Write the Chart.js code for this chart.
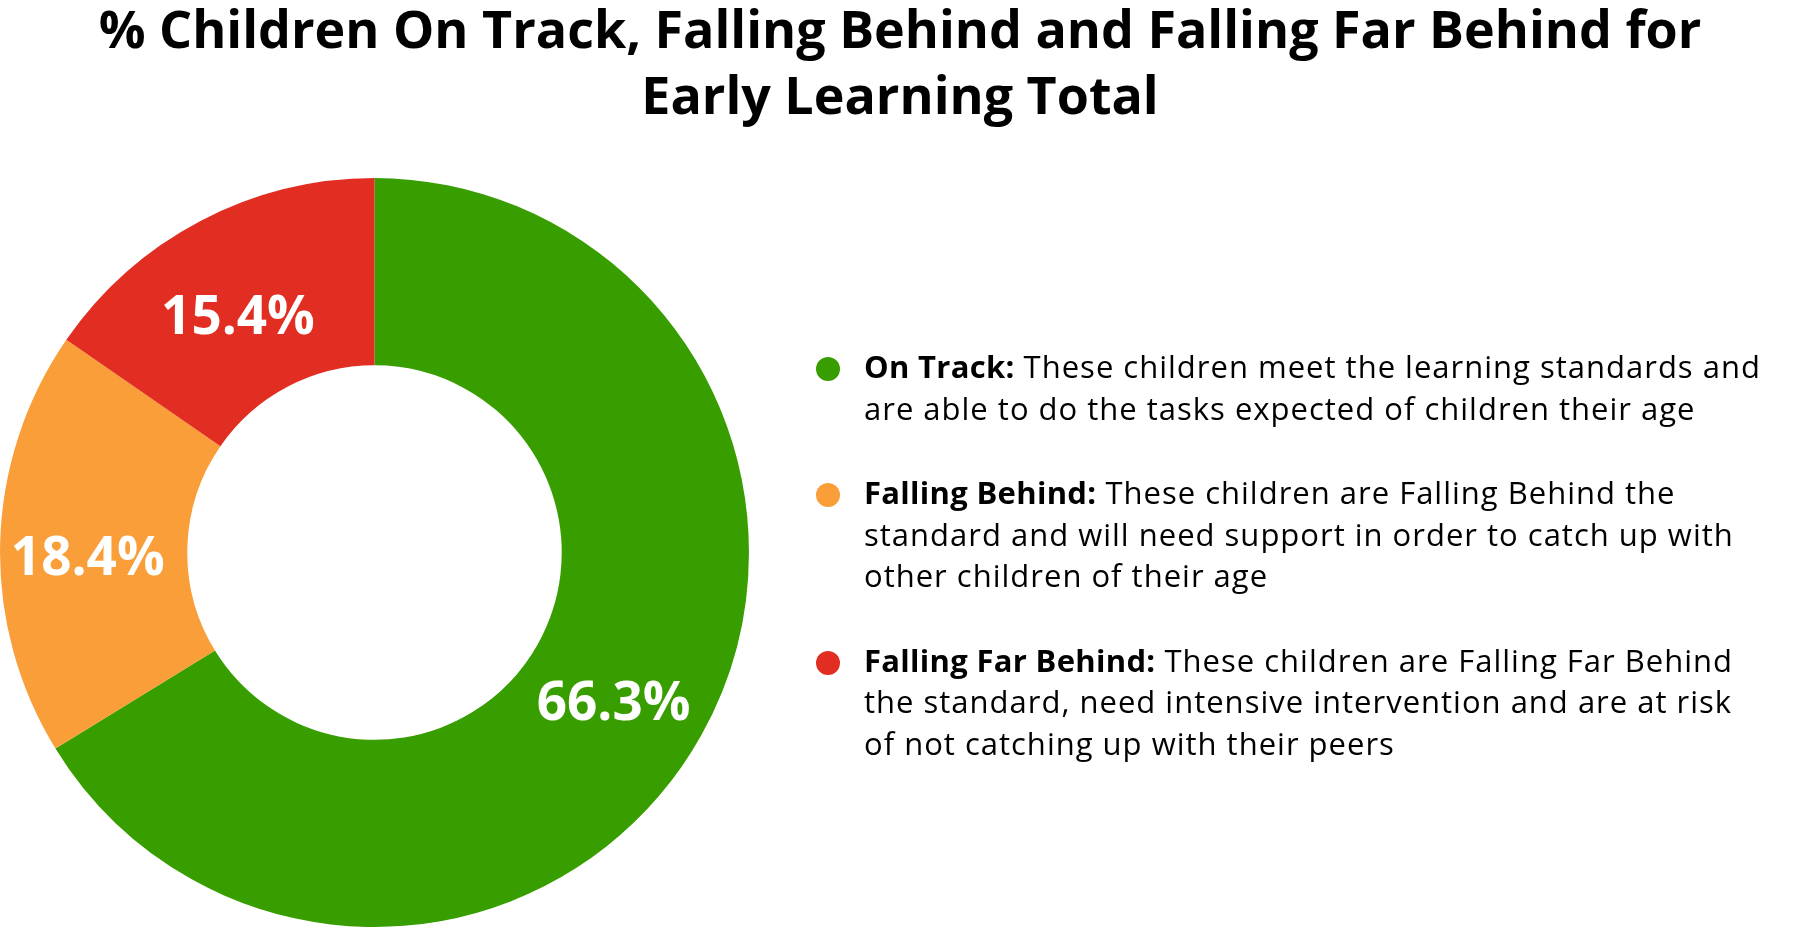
<!DOCTYPE html>
<html>
<head>
<meta charset="utf-8">
<title>Early Learning Total</title>
<script src="https://cdn.jsdelivr.net/npm/chart.js@4.4.0/dist/chart.umd.min.js"></script>
<style>
  html, body { margin: 0; padding: 0; background: #fff; }
  #wrap { position: relative; width: 1800px; height: 927px; overflow: hidden; }
  #chart { position: absolute; left: 0; top: 0; }
  #legend {
    position: absolute; left: 810px; top: 346px;
    font-family: 'Open Sans', sans-serif; font-size: 31px; line-height: 41.5px;
    letter-spacing: 1px; color: #000; white-space: nowrap;
  }
  .item { position: relative; padding-left: 54px; margin-bottom: 43px; }
  .dot { position: absolute; left: 6px; top: 11px; width: 24px; height: 24px; border-radius: 50%; }
  .item b { font-weight: 700; letter-spacing: 0.3px; }
</style>
</head>
<body>
<div id="wrap">
  <canvas id="chart" width="1800" height="927"></canvas>
  <div id="legend"></div>
</div>
<script>
/* ---- data ---- */
const titleLines = [
  '% Children On Track, Falling Behind and Falling Far Behind for',
  'Early Learning Total'
];
const categories = ['On Track', 'Falling Behind', 'Falling Far Behind'];
const percentages = [66.3, 18.4, 15.4];
const colors = ['#389e00', '#f99e38', '#e12d22'];
const descriptions = [
  ['These children meet the learning standards and',
   'are able to do the tasks expected of children their age'],
  ['These children are Falling Behind the',
   'standard and will need support in order to catch up with',
   'other children of their age'],
  ['These children are Falling Far Behind',
   'the standard, need intensive intervention and are at risk',
   'of not catching up with their peers']
];

// empty box on the right so the doughnut sits on the left half
const legendSpace = {
  id: 'legendSpace',
  beforeInit(chart) {
    Chart.layouts.addBox(chart, {
      position: 'right',
      weight: 0,
      fullSize: false,
      options: {},
      isHorizontal() { return false; },
      getPadding() { return { top: 0, left: 0, bottom: 0, right: 0 }; },
      update(maxWidth, maxHeight) {
        this.width = 1051;
        this.height = maxHeight;
        return { width: this.width, height: this.height };
      },
      draw() {}
    });
  }
};

// percentage text on each slice
const sliceLabels = {
  id: 'sliceLabels',
  afterDatasetsDraw(chart) {
    const ctx = chart.ctx;
    const meta = chart.getDatasetMeta(0);
    ctx.save();
    ctx.fillStyle = '#fff';
    ctx.font = 'bold 53px "Open Sans", sans-serif';
    ctx.textAlign = 'center';
    ctx.textBaseline = 'middle';
    meta.data.forEach((arc, i) => {
      const p = arc.tooltipPosition();
      ctx.fillText(percentages[i].toFixed(1) + '%', p.x - 6, p.y + 15);
    });
    ctx.restore();
  }
};

new Chart(document.getElementById('chart'), {
  type: 'doughnut',
  data: {
    labels: categories,
    datasets: [{
      data: percentages,
      backgroundColor: colors,
      borderWidth: 0
    }]
  },
  options: {
    responsive: false,
    animation: false,
    cutout: '50%',
    layout: { padding: 0 },
    plugins: {
      legend: { display: false },
      tooltip: { enabled: false },
      title: {
        display: true,
        text: titleLines,
        color: '#000',
        font: { family: 'Open Sans', size: 52, weight: 'bold', lineHeight: 1.27 },
        padding: { top: 0, bottom: 46 }
      }
    }
  },
  plugins: [legendSpace, sliceLabels]
});

// html legend built from the same arrays
const legendEl = document.getElementById('legend');
categories.forEach((name, i) => {
  const item = document.createElement('div');
  item.className = 'item';
  const dot = document.createElement('span');
  dot.className = 'dot';
  dot.style.background = colors[i];
  item.appendChild(dot);
  const lines = descriptions[i];
  let html = '<b>' + name + ':</b> ' + lines[0];
  for (let k = 1; k < lines.length; k++) html += '<br>' + lines[k];
  item.insertAdjacentHTML('beforeend', html);
  legendEl.appendChild(item);
});
</script>
</body>
</html>
